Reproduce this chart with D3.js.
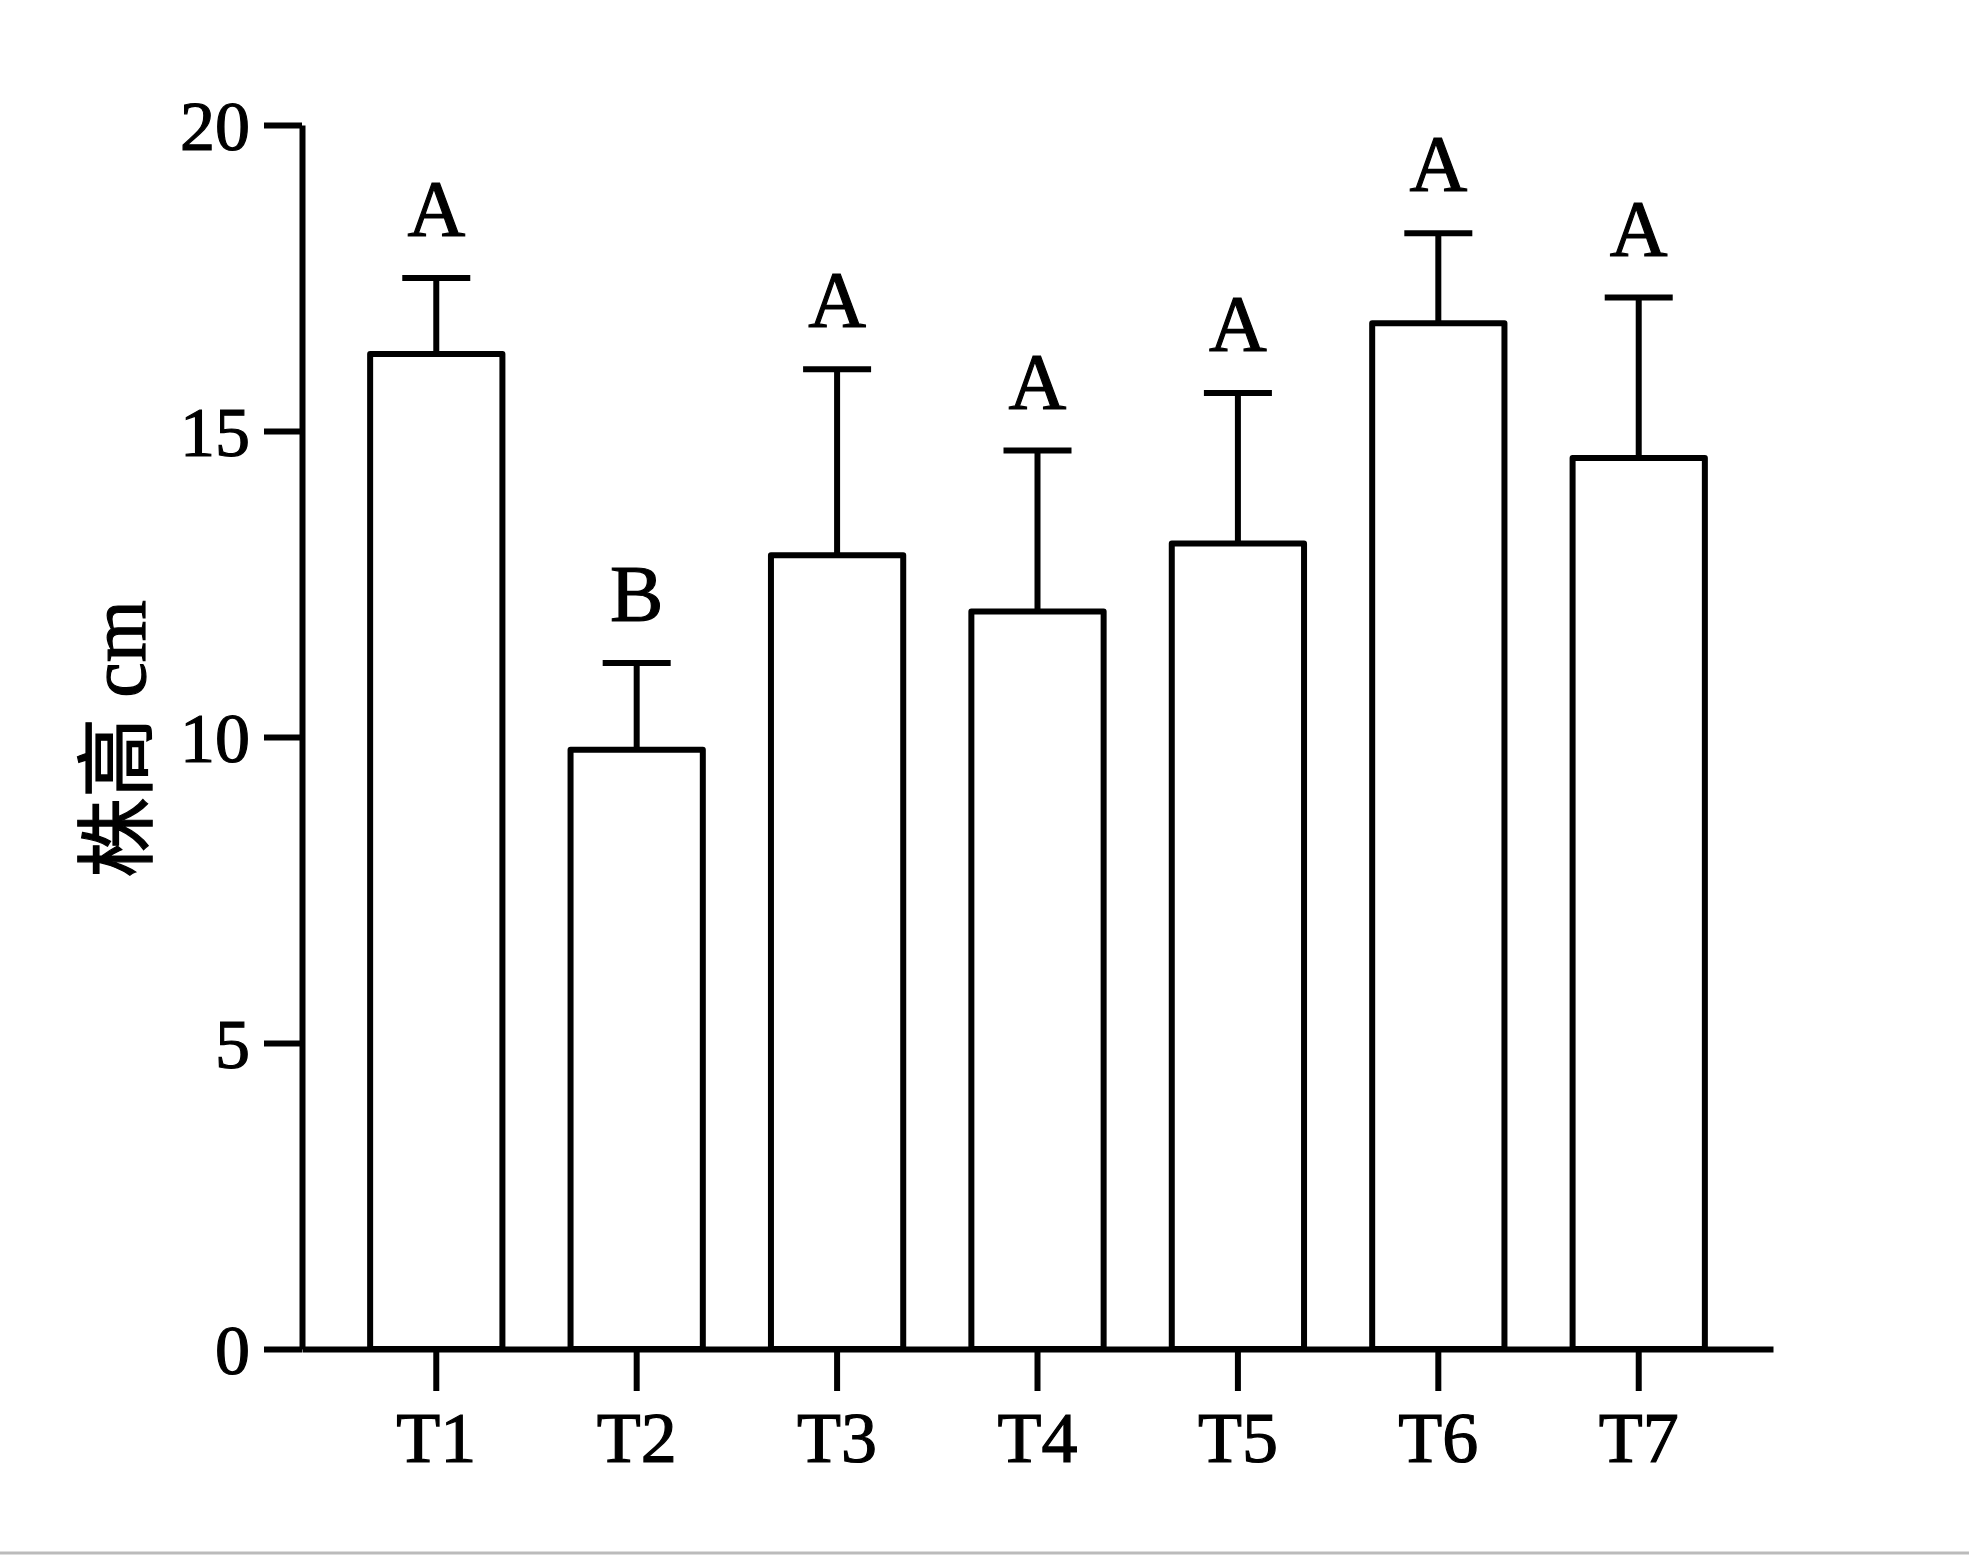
<!DOCTYPE html>
<html>
<head>
<meta charset="utf-8">
<script src="https://cdn.jsdelivr.net/npm/d3@7"></script>
<style>
  html, body { margin: 0; padding: 0; background: #fff; }
  svg { display: block; }
</style>
</head>
<body>
<svg id="chart" width="1969" height="1555"></svg>
<script>
const categories = ["T1", "T2", "T3", "T4", "T5", "T6", "T7"];
const means      = [16.26, 9.79, 12.97, 12.05, 13.16, 16.76, 14.56];
const errUpper   = [17.50, 11.21, 16.01, 14.68, 15.62, 18.23, 17.18];
const letters    = ["A", "B", "A", "A", "A", "A", "A"];
const yTicks     = [0, 5, 10, 15, 20];
const yTitle     = "株高 cm";

const svg = d3.select("#chart");
const serif = "'Liberation Serif', 'Times New Roman', serif";
const SW = 6;
const TXT_STROKE = 1.2;

const x = d3.scaleBand().domain(categories).range([302, 1773])
  .paddingInner(0.34).paddingOuter(0.34);
const y = d3.scaleLinear().domain([0, 20]).range([1349, 125]);

// bars
svg.append("g").selectAll("rect").data(categories).join("rect")
  .attr("x", d => x(d))
  .attr("y", (d, i) => y(means[i]))
  .attr("width", x.bandwidth())
  .attr("height", (d, i) => y(0) - y(means[i]))
  .attr("fill", "#fff").attr("stroke", "#000").attr("stroke-width", SW)
  .attr("stroke-linejoin", "round");

// error bars
const capHalf = 34;
const eb = svg.append("g").attr("stroke", "#000").attr("stroke-width", SW);
categories.forEach((c, i) => {
  const cx = x(c) + x.bandwidth() / 2;
  eb.append("line").attr("x1", cx).attr("x2", cx)
    .attr("y1", y(means[i])).attr("y2", y(errUpper[i]));
  eb.append("line").attr("x1", cx - capHalf).attr("x2", cx + capHalf)
    .attr("y1", y(errUpper[i])).attr("y2", y(errUpper[i]));
});

// significance letters
svg.append("g").selectAll("text").data(categories).join("text")
  .attr("x", d => x(d) + x.bandwidth() / 2)
  .attr("y", (d, i) => y(errUpper[i]) - 42)
  .attr("text-anchor", "middle")
  .attr("font-family", serif).attr("font-size", 80).attr("fill", "#000")
  .attr("stroke", "#000").attr("stroke-width", TXT_STROKE)
  .text((d, i) => letters[i]);

// y axis
const yAxis = svg.append("g").attr("transform", "translate(302,0)")
  .call(d3.axisLeft(y).tickValues(yTicks).tickSize(38).tickSizeOuter(0).tickPadding(14));
yAxis.select(".domain").attr("stroke-width", SW);
yAxis.selectAll(".tick line").attr("stroke-width", SW);
yAxis.selectAll(".tick text").attr("font-family", serif).attr("font-size", 70)
  .attr("fill", "#000").attr("stroke", "#000").attr("stroke-width", TXT_STROKE)
  .attr("dy", "0.35em");

// x axis
const xAxis = svg.append("g").attr("transform", "translate(0,1349)")
  .call(d3.axisBottom(x).tickSize(42).tickSizeOuter(0).tickPadding(20));
xAxis.select(".domain").attr("stroke-width", SW);
xAxis.selectAll(".tick line").attr("stroke-width", SW);
xAxis.selectAll(".tick text").attr("font-family", serif).attr("font-size", 72)
  .attr("fill", "#000").attr("stroke", "#000").attr("stroke-width", TXT_STROKE);

// y title
svg.append("text")
  .attr("transform", "translate(145,739) rotate(-90)")
  .attr("text-anchor", "middle")
  .attr("font-family", serif + ", 'Noto Sans CJK SC'")
  .attr("font-size", 80).attr("fill", "#000")
  .attr("stroke", "#000").attr("stroke-width", TXT_STROKE)
  .text(yTitle);

// bottom grey rule of the figure frame
svg.append("line").attr("x1", 0).attr("x2", 1969).attr("y1", 1553).attr("y2", 1553)
  .attr("stroke", "#bbb").attr("stroke-width", 3);
</script>
</body>
</html>
